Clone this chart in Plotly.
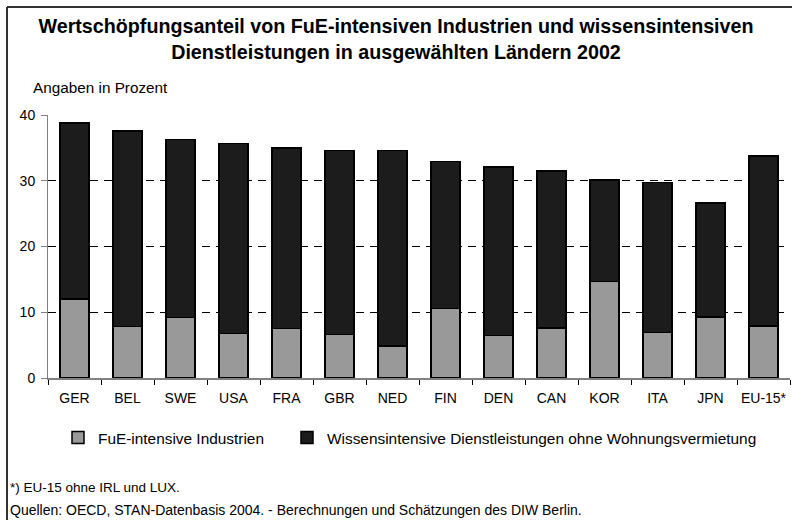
import plotly.graph_objects as go

countries = ["GER", "BEL", "SWE", "USA", "FRA", "GBR", "NED", "FIN", "DEN", "CAN", "KOR", "ITA", "JPN", "EU-15*"]
fue_industrien = [12.0, 7.8, 9.2, 6.8, 7.5, 6.6, 4.9, 10.6, 6.5, 7.6, 14.7, 6.9, 9.3, 7.9]
gesamt = [38.8, 37.6, 36.3, 35.7, 35.0, 34.6, 34.6, 32.9, 32.1, 31.5, 30.1, 29.7, 26.6, 33.8]
wissens_dienstleistungen = [round(g - f, 1) for g, f in zip(gesamt, fue_industrien)]

y_ticks = [0, 10, 20, 30, 40]

FONT = "Liberation Sans, Arial, sans-serif"

fig = go.Figure()
fig.add_trace(go.Bar(
    x=countries, y=fue_industrien, name="FuE-intensive Industrien",
    marker=dict(color="#999999", line=dict(color="#000000", width=1.5)),
    width=0.55, legend="legend", showlegend=True,
))
fig.add_trace(go.Bar(
    x=countries, y=wissens_dienstleistungen,
    name="Wissensintensive Dienstleistungen ohne Wohnungsvermietung",
    marker=dict(color="#1c1c1c", line=dict(color="#000000", width=1.5)),
    width=0.55, legend="legend2", showlegend=True,
))

L, R, T, B = 48, 2, 115, 142
W, H = 792, 520
pw, ph = W - L - R, H - T - B


def px_x(px):
    return (px - L) / pw


def px_y(py):
    return (H - B - py) / ph


fig.update_layout(
    width=W, height=H,
    barmode="stack",
    showlegend=True,
    plot_bgcolor="white", paper_bgcolor="white",
    margin=dict(l=L, r=R, t=T, b=B, autoexpand=False),
    font=dict(family=FONT, size=14, color="#000000"),
    title=dict(
        text="Wertschöpfungsanteil von FuE-intensiven Industrien und wissensintensiven<br>Dienstleistungen in ausgewählten Ländern 2002",
        font=dict(family=FONT, size=19.7, color="#000000", weight="bold"),
        x=0.5, xanchor="center", xref="container",
        y=1 - 33 / H, yanchor="middle", yref="container",
    ),
    xaxis=dict(
        showline=True, linecolor="#808080", linewidth=2,
        ticks="outside", tickson="boundaries", ticklen=5, tickcolor="#000000", tickwidth=1,
        showgrid=False, tickfont=dict(size=14), tickangle=0, ticklabelstandoff=6,
    ),
    yaxis=dict(
        range=[0, 40], tickvals=y_ticks,
        showline=True, linecolor="#808080", linewidth=1,
        ticks="outside", ticklen=6, tickcolor="#808080",
        showgrid=True, gridcolor="#000000", gridwidth=1, griddash="8px,6px",
        zeroline=False, tickfont=dict(size=14), ticklabelstandoff=3,
    ),
    legend=dict(
        orientation="h", x=px_x(58), y=px_y(438), xanchor="left", yanchor="middle",
        font=dict(size=15.4), bgcolor="rgba(0,0,0,0)",
    ),
    legend2=dict(
        orientation="h", x=px_x(287), y=px_y(438), xanchor="left", yanchor="middle",
        font=dict(size=15.4), bgcolor="rgba(0,0,0,0)",
    ),
    annotations=[
        dict(text="Angaben in Prozent", xref="paper", yref="paper", x=px_x(31), y=px_y(88),
             xanchor="left", yanchor="middle", showarrow=False, font=dict(size=15.3)),
        dict(text="*) EU-15 ohne IRL und LUX.", xref="paper", yref="paper", x=px_x(8), y=px_y(487),
             xanchor="left", yanchor="middle", showarrow=False, font=dict(size=13.5)),
        dict(text="Quellen: OECD, STAN-Datenbasis 2004. - Berechnungen und Schätzungen des DIW Berlin.",
             xref="paper", yref="paper", x=px_x(8), y=px_y(510),
             xanchor="left", yanchor="middle", showarrow=False, font=dict(size=14)),
    ],
    shapes=[
        dict(type="line", xref="paper", yref="paper", x0=px_x(7), x1=px_x(7), y0=px_y(530), y1=px_y(7),
             line=dict(color="#333333", width=2)),
        dict(type="line", xref="paper", yref="paper", x0=px_x(7), x1=px_x(800), y0=px_y(7), y1=px_y(7),
             line=dict(color="#333333", width=2)),
    ],
)

fig.write_html(
    "out.html",
    config={"displayModeBar": False},
    post_script="document.body.style.margin='0';document.body.style.overflow='hidden';",
)
